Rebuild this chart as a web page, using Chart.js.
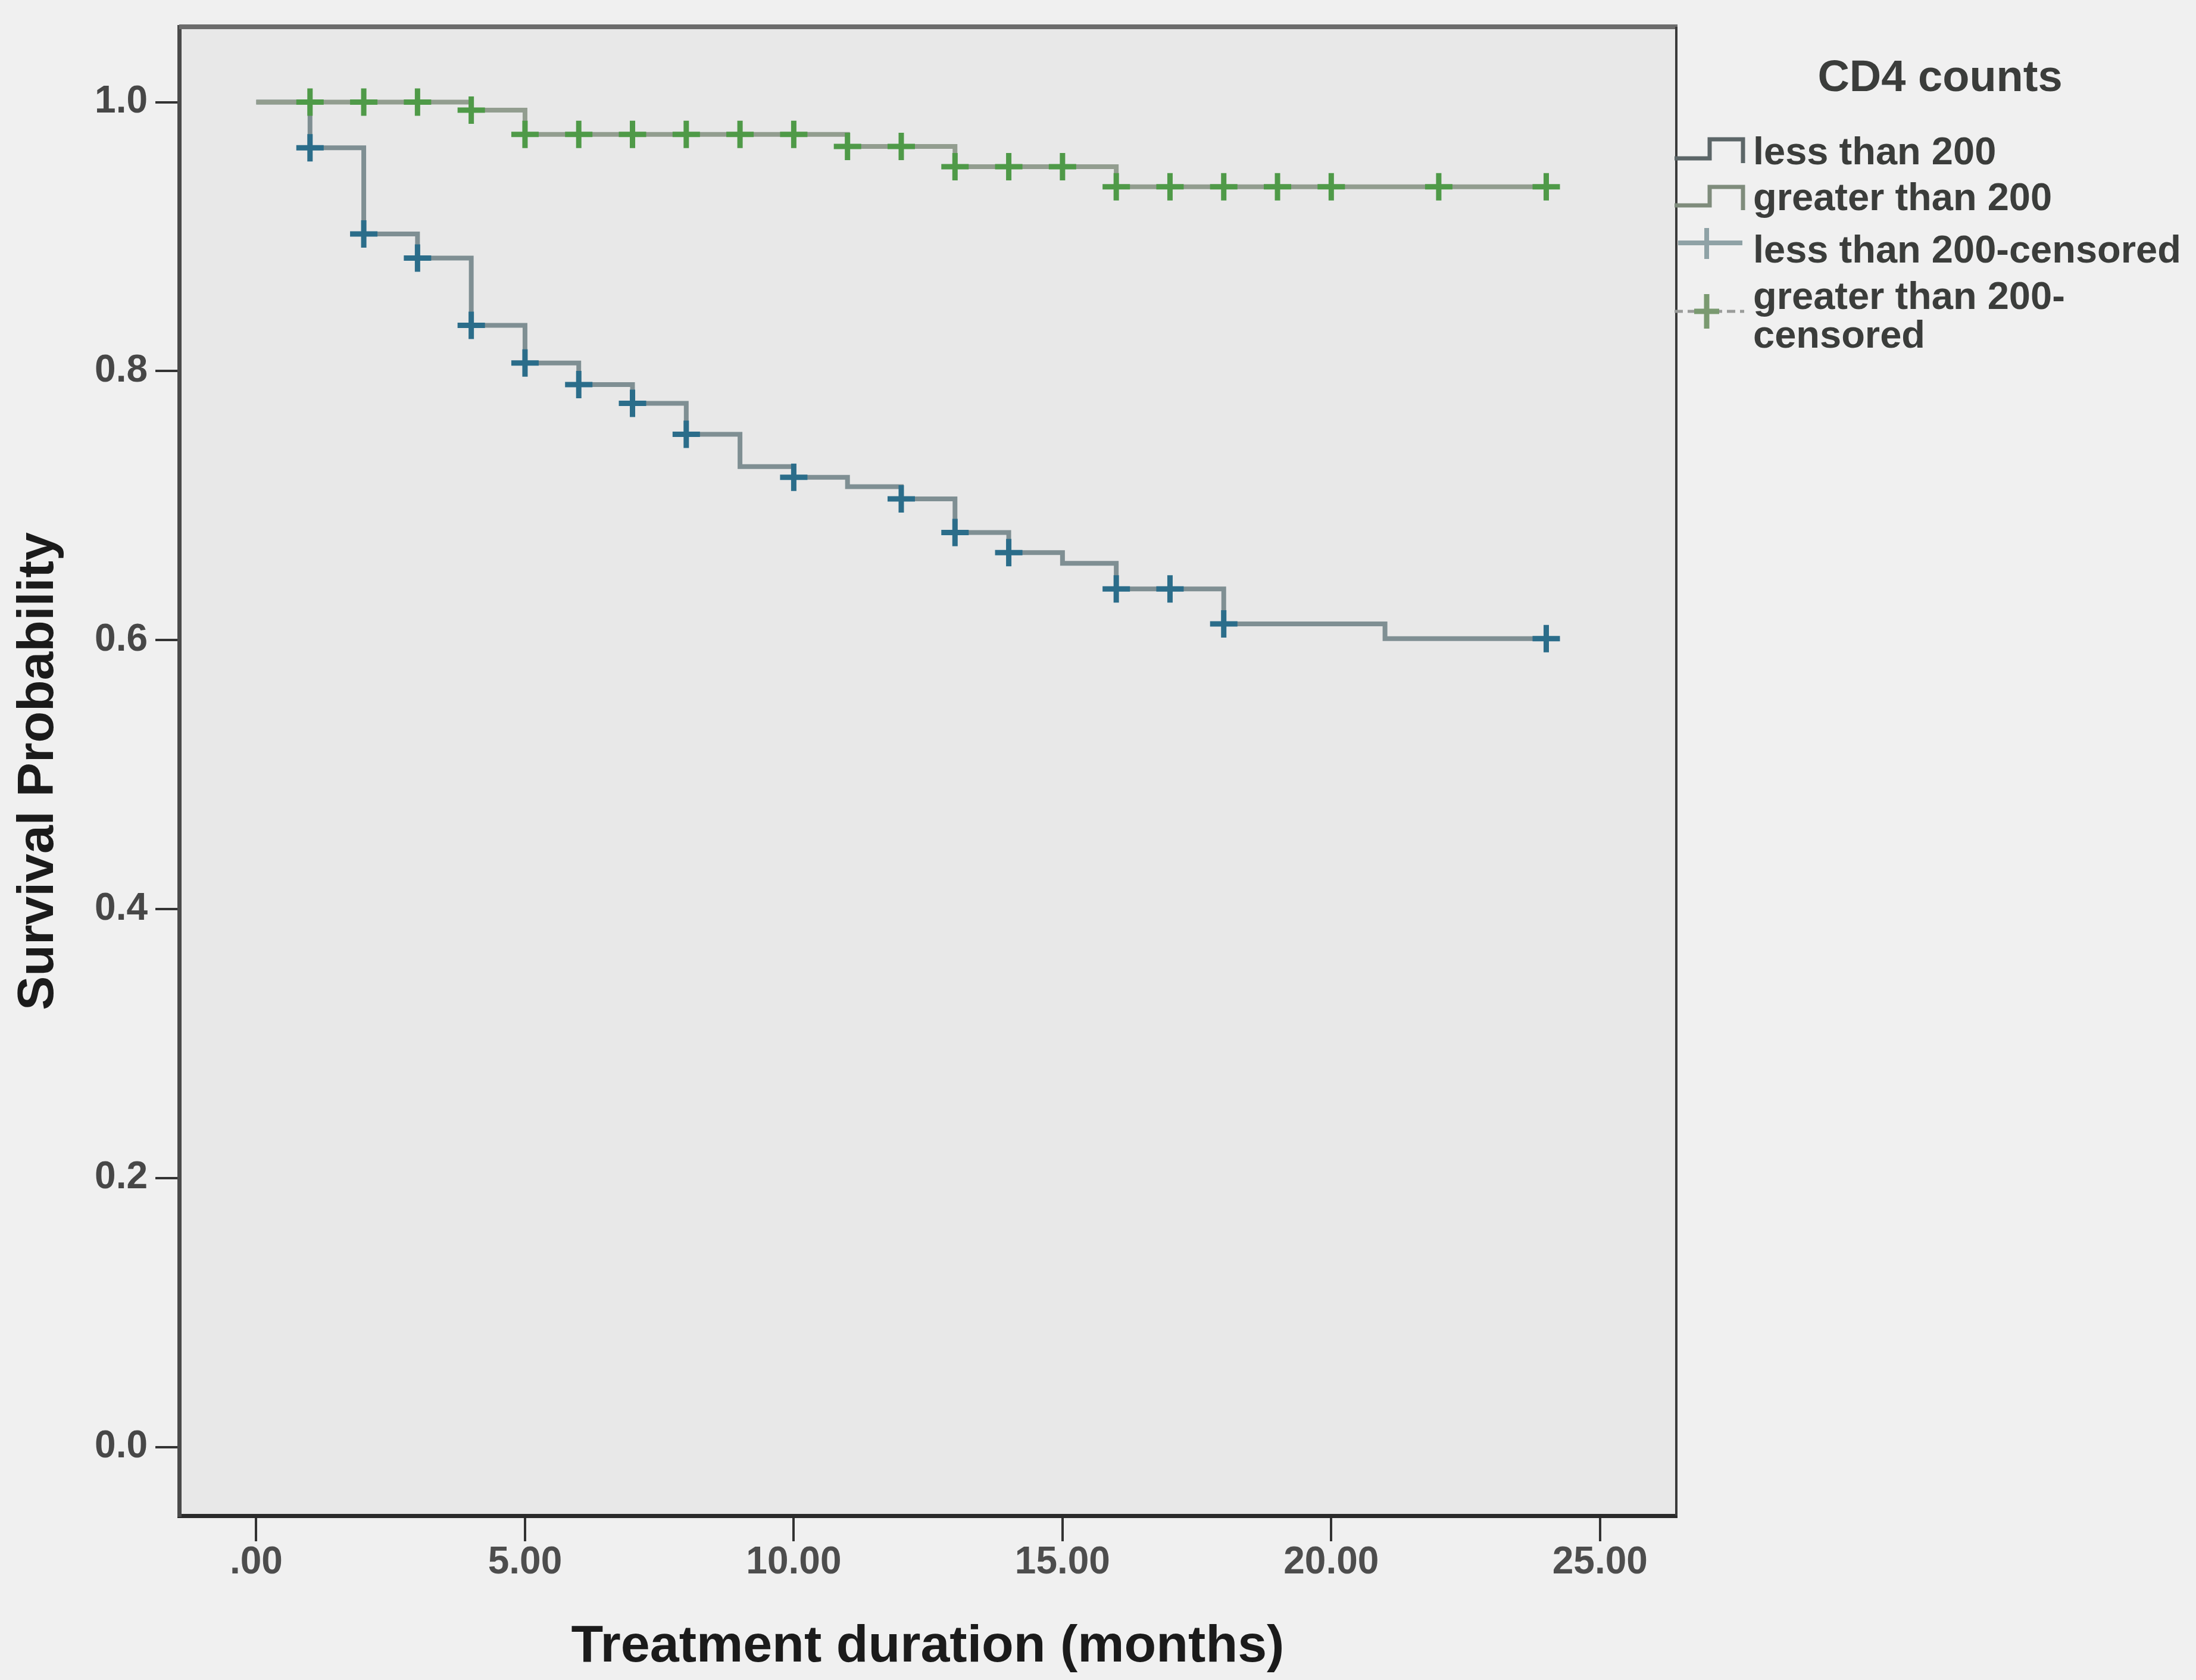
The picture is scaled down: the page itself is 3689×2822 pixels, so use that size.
<!DOCTYPE html>
<html>
<head>
<meta charset="utf-8">
<script src="https://cdn.jsdelivr.net/npm/chart.js@4.4.1/dist/chart.umd.min.js"></script>
<style>
html,body{margin:0;padding:0;background:#f0f0f0;}
canvas{display:block;}
</style>
</head>
<body>
<canvas id="c" width="3689" height="2822"></canvas>
<script>
// ---- Data ----
const lessTimes = [0, 1, 2, 3, 4, 5, 6, 7, 8, 9, 10, 11, 12, 13, 14, 15, 16, 18, 21, 24];
const lessSurv  = [1.0, 0.966, 0.902, 0.884, 0.834, 0.806, 0.790, 0.776, 0.753, 0.729, 0.721, 0.714, 0.705, 0.680, 0.665, 0.657, 0.638, 0.612, 0.601, 0.601];
const lessCensTimes = [1, 2, 3, 4, 5, 6, 7, 8, 10, 12, 13, 14, 16, 17, 18, 24];
const lessCensSurv  = [0.966, 0.902, 0.884, 0.834, 0.806, 0.790, 0.776, 0.753, 0.721, 0.705, 0.680, 0.665, 0.638, 0.638, 0.612, 0.601];

const greatTimes = [0, 4, 5, 11, 13, 16, 24];
const greatSurv  = [1.0, 0.994, 0.976, 0.967, 0.952, 0.937, 0.937];
const greatCensTimes = [1, 2, 3, 4, 5, 6, 7, 8, 9, 10, 11, 12, 13, 14, 15, 16, 17, 18, 19, 20, 22, 24];
const greatCensSurv  = [1.0, 1.0, 1.0, 0.994, 0.976, 0.976, 0.976, 0.976, 0.976, 0.976, 0.967, 0.967, 0.952, 0.952, 0.952, 0.937, 0.937, 0.937, 0.937, 0.937, 0.937, 0.937];

const xTickValues = [0, 5, 10, 15, 20, 25];
const xTickLabels = ['.00', '5.00', '10.00', '15.00', '20.00', '25.00'];
const yTickValues = [0, 0.2, 0.4, 0.6, 0.8, 1.0];
const yTickLabels = ['0.0', '0.2', '0.4', '0.6', '0.8', '1.0'];

const xTitle = 'Treatment duration (months)';
const yTitle = 'Survival Probability';
const legendTitle = 'CD4 counts';
const seriesNames = ['less than 200', 'greater than 200', 'less than 200-censored', 'greater than 200-censored'];
const legendLines = [['less than 200'], ['greater than 200'], ['less than 200-censored'], ['greater than 200-', 'censored']];

// ---- helpers ----
const toPoints = (xs, ys) => xs.map((x, i) => ({x: x, y: ys[i]}));
const FONT = '"Liberation Sans", Arial, sans-serif';

const bgPlugin = {
  id: 'bg',
  beforeDraw(chart) {
    const c = chart.ctx, a = chart.chartArea;
    c.save();
    c.fillStyle = '#f0f0f0';
    c.fillRect(0, 0, chart.width, chart.height);
    c.fillStyle = '#e8e8e8';
    c.fillRect(a.left, a.top, a.right - a.left, a.bottom - a.top);
    c.restore();
  },
  afterDraw(chart) {
    const c = chart.ctx, a = chart.chartArea;
    c.save();
    c.strokeStyle = '#6c6c6c';
    c.lineWidth = 8;
    c.beginPath(); c.moveTo(a.left, a.top); c.lineTo(a.right + 2, a.top); c.stroke();
    c.strokeStyle = '#3a3a3a';
    c.lineWidth = 4;
    c.beginPath(); c.moveTo(a.right, a.top); c.lineTo(a.right, a.bottom); c.stroke();
    c.restore();
  }
};

const legendPlugin = {
  id: 'kmLegend',
  afterDraw(chart) {
    const c = chart.ctx;
    c.save();
    c.fillStyle = '#3b3d3b';
    c.textBaseline = 'alphabetic';
    c.font = 'bold 74px ' + FONT;
    c.textAlign = 'center';
    c.fillText(legendTitle, 3259, 153);

    c.font = 'bold 65px ' + FONT;
    c.textAlign = 'left';
    const tx = 2945;
    const baselines = [[276], [353], [441], [519, 584]];
    legendLines.forEach((lines, i) => {
      lines.forEach((t, j) => c.fillText(t, tx, baselines[i][j]));
    });

    c.lineCap = 'butt';
    const stepIcon = (yLow, yHigh, color) => {
      c.strokeStyle = color; c.lineWidth = 7;
      c.beginPath();
      c.moveTo(2813, yLow); c.lineTo(2872, yLow); c.lineTo(2872, yHigh);
      c.lineTo(2928, yHigh); c.lineTo(2928, yLow + 8);
      c.stroke();
    };
    stepIcon(266, 234, '#5c6668');
    stepIcon(345, 314, '#7f8c7c');
    c.strokeStyle = '#8fa2a6'; c.lineWidth = 8;
    c.beginPath();
    c.moveTo(2819, 408); c.lineTo(2927, 408);
    c.moveTo(2867, 383); c.lineTo(2867, 435);
    c.stroke();
    c.strokeStyle = '#9a9c9a'; c.lineWidth = 5;
    c.setLineDash([14, 8]);
    c.beginPath(); c.moveTo(2813, 523); c.lineTo(2930, 523); c.stroke();
    c.setLineDash([]);
    c.strokeStyle = '#7a9a70'; c.lineWidth = 9;
    c.beginPath();
    c.moveTo(2846, 523); c.lineTo(2888, 523);
    c.moveTo(2867, 494); c.lineTo(2867, 552);
    c.stroke();
    c.restore();
  }
};

new Chart(document.getElementById('c').getContext('2d'), {
  type: 'scatter',
  data: {
    datasets: [
      {
        label: seriesNames[0],
        data: toPoints(lessTimes, lessSurv),
        showLine: true, stepped: true,
        borderColor: '#7f8f93', borderWidth: 8,
        pointRadius: 0, pointHoverRadius: 0, fill: false, order: 4
      },
      {
        label: seriesNames[1],
        data: toPoints(greatTimes, greatSurv),
        showLine: true, stepped: true,
        borderColor: '#929d8f', borderWidth: 8,
        pointRadius: 0, pointHoverRadius: 0, fill: false, order: 3
      },
      {
        label: seriesNames[2],
        data: toPoints(lessCensTimes, lessCensSurv),
        showLine: false,
        pointStyle: 'cross', pointRadius: 23, pointBorderWidth: 9,
        borderColor: '#2b6d8a', pointBorderColor: '#2b6d8a', backgroundColor: '#2b6d8a',
        order: 2
      },
      {
        label: seriesNames[3],
        data: toPoints(greatCensTimes, greatCensSurv),
        showLine: false,
        pointStyle: 'cross', pointRadius: 23, pointBorderWidth: 9,
        borderColor: '#4f9a48', pointBorderColor: '#4f9a48', backgroundColor: '#4f9a48',
        order: 1
      }
    ]
  },
  options: {
    responsive: false,
    animation: false,
    devicePixelRatio: 1,
    layout: {padding: {top: 35, right: 873, left: 0, bottom: 0}},
    plugins: {legend: {display: false}, tooltip: {enabled: false}},
    scales: {
      x: {
        type: 'linear',
        min: -1.434, max: 26.42,
        afterBuildTicks: s => { s.ticks = xTickValues.map(v => ({value: v})); },
        afterFit: s => { s.height = 276; },
        ticks: {
          callback: (v, i) => xTickLabels[i],
          font: {family: FONT, size: 64, weight: 'bold', lineHeight: 1},
          color: '#4d4d4d', padding: 4, maxRotation: 0, autoSkip: false
        },
        grid: {drawOnChartArea: false, drawTicks: true, tickLength: 43, color: '#333333', lineWidth: 4},
        border: {display: true, color: '#2a2a2a', width: 7},
        title: {
          display: true, text: xTitle, color: '#1b1b1b',
          font: {family: FONT, size: 88, weight: 'bold', lineHeight: 1.2},
          padding: {top: 0, bottom: 2}
        }
      },
      y: {
        type: 'linear',
        min: -0.0511, max: 1.056,
        afterBuildTicks: s => { s.ticks = yTickValues.map(v => ({value: v})); },
        afterFit: s => { s.width = 301; },
        ticks: {
          callback: (v, i) => yTickLabels[i],
          font: {family: FONT, size: 64, weight: 'bold', lineHeight: 1},
          color: '#474747', padding: 13, autoSkip: false
        },
        grid: {drawOnChartArea: false, drawTicks: true, tickLength: 40, color: '#333333', lineWidth: 4},
        border: {display: true, color: '#4a4a4a', width: 7},
        title: {
          display: true, text: yTitle, color: '#1b1b1b',
          font: {family: FONT, size: 86, weight: 'bold', lineHeight: 1.2},
          padding: {top: 14, bottom: 0}
        }
      }
    }
  },
  plugins: [bgPlugin, legendPlugin]
});
</script>
</body>
</html>
